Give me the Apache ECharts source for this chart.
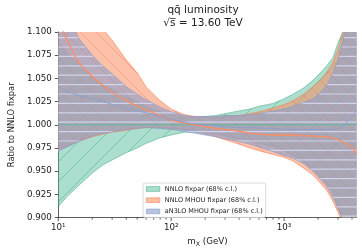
<!DOCTYPE html>
<html><head><meta charset="utf-8">
<script src="https://cdn.jsdelivr.net/npm/echarts@6/dist/echarts.min.js"></script>
<style>html,body{margin:0;padding:0;background:#fff}#c{width:362px;height:252px}</style>
</head><body><div id="c"></div>
<script>
const mass = [10,12,15,20,25,30,40,50,60,80,100,130,160,200,250,300,400,500,600,800,1000,1200,1500,1800,2100,2400,2700,3000,3300,3600,4000,4400];
const nnloLower = [0.912,0.923,0.934,0.948,0.957,0.962,0.970,0.975,0.980,0.986,0.989,0.992,0.992,0.991,0.990,0.988,0.985,0.983,0.980,0.977,0.972,0.967,0.960,0.952,0.944,0.936,0.928,0.912,0.900,0.870,0.830,0.790];
const nnloUpper = [1.088,1.077,1.066,1.052,1.043,1.038,1.030,1.025,1.020,1.014,1.011,1.008,1.008,1.009,1.010,1.012,1.015,1.017,1.020,1.023,1.028,1.033,1.040,1.048,1.056,1.064,1.072,1.088,1.100,1.130,1.170,1.210];
const nnloCentral = [1,1,1,1,1,1,1,1,1,1,1,1,1,1,1,1,1,1,1,1,1,1,1,1,1,1,1,1,1,1,1,1];
const mhouLower = [0.9725,0.977,0.982,0.987,0.990,0.992,0.994,0.996,0.997,0.997,0.996,0.995,0.993,0.990,0.987,0.984,0.979,0.975,0.972,0.968,0.965,0.961,0.953,0.946,0.937,0.929,0.918,0.906,0.893,0.870,0.840,0.800];
const mhouUpper = [1.200,1.170,1.145,1.118,1.103,1.091,1.070,1.056,1.041,1.026,1.017,1.011,1.009,1.008,1.008,1.009,1.010,1.012,1.014,1.018,1.022,1.026,1.033,1.041,1.048,1.057,1.067,1.081,1.098,1.130,1.170,1.210];
const mhouCentral = [1.112,1.091,1.068,1.052,1.042,1.035,1.026,1.020,1.016,1.010,1.005,1.002,1.000,0.998,0.996,0.995,0.993,0.991,0.990,0.989,0.989,0.989,0.988,0.988,0.987,0.987,0.986,0.984,0.982,0.979,0.975,0.969];
const an3loLower = [0.972,0.976,0.982,0.988,0.991,0.9925,0.995,0.996,0.997,0.996,0.995,0.993,0.991,0.989,0.987,0.985,0.982,0.979,0.976,0.971,0.967,0.964,0.958,0.950,0.941,0.933,0.922,0.910,0.898,0.880,0.850,0.810];
const an3loUpper = [1.150,1.125,1.094,1.075,1.063,1.055,1.041,1.033,1.027,1.019,1.014,1.010,1.009,1.009,1.009,1.010,1.010,1.011,1.012,1.015,1.017,1.020,1.024,1.028,1.035,1.043,1.055,1.070,1.090,1.115,1.150,1.190];
const an3loCentral = [1.041,1.036,1.032,1.028,1.025,1.022,1.018,1.015,1.013,1.009,1.006,1.003,1.001,1.000,0.999,0.998,0.997,0.997,0.9965,0.996,0.9955,0.995,0.995,0.995,0.995,0.995,0.995,0.996,0.998,1.003,1.009,1.016];
const names = ['NNLO fixpar (68% c.l.)','NNLO MHOU fixpar (68% c.l.)','aN3LO MHOU fixpar (68% c.l.)'];
const majorTicks = [10,100,1000];
const minorTicks = [20,30,40,50,60,70,80,90,200,300,400,500,600,700,800,900,2000,3000,4000];
const supers = {'1':'10\u00b9','2':'10\u00b2','3':'10\u00b3'};

const FILL = ['rgba(102,194,165,0.55)','rgba(252,141,98,0.55)','rgba(141,160,203,0.62)'];
const EDGE = ['rgba(70,170,135,0.9)','rgba(250,120,80,0.9)','rgba(130,150,200,0.9)'];
const LINE = ['#5cbf9b','#fc8d62','#8da0cb'];
// hatch: [slope in screen px (0 horizontal, -1 '/', 1 '\'), spacing, colour, width]
const HATCH = [
  [[-1,20,'rgba(50,160,120,0.6)',0.7]],
  [[1,16,'rgba(240,110,80,0.55)',0.7]],
  [[-1,14,'rgba(235,150,150,0.3)',0.6],[1,14,'rgba(235,150,150,0.3)',0.6],[0,9.4,'rgba(214,220,246,0.85)',1.2]]
];

function posInterval(ha,hb,xa,xb){
  if (ha>=0 && hb>=0) return [xa,xb];
  if (ha<0 && hb<0) return null;
  const x0 = xa + ha/(ha-hb)*(xb-xa);
  return ha>=0 ? [xa,x0] : [x0,xb];
}
function hatchElements(up, dn, spec, rect){
  const [m, s, color, w] = spec;
  const X0=rect.x, X1=rect.x+rect.width, Y0=rect.y, Y1=rect.y+rect.height;
  let lo, hi;
  if (m===0){lo=Y0; hi=Y1;} else if (m<0){lo=Y0+X0; hi=Y1+X1;} else {lo=Y0-X1; hi=Y1-X0;}
  const out = [];
  const st = {stroke:color, lineWidth:w};
  for (let c=Math.ceil(lo/s)*s; c<=hi; c+=s){
    let run = null;
    for (let i=0;i<up.length-1;i++){
      const xa=up[i][0], xb=up[i+1][0];
      if (!(xb>xa)) continue;
      const ga=c+m*xa, gb=c+m*xb;
      const iv1 = posInterval(ga-up[i][1], gb-up[i+1][1], xa, xb);
      const iv2 = posInterval(dn[i][1]-ga, dn[i+1][1]-gb, xa, xb);
      if (!iv1 || !iv2) { continue; }
      const a=Math.max(iv1[0],iv2[0]), b=Math.min(iv1[1],iv2[1]);
      if (b-a<0.01) continue;
      if (run && Math.abs(run[1]-a)<0.02) run[1]=b;
      else { if (run) out.push(run); run=[a,b]; }
    }
    if (run) out.push(run);
    out.forEach(r=>{ if (!r.done){ r.done=true; r.c=c; } });
  }
  return out.map(r=>({type:'line',silent:true,shape:{x1:r[0],y1:r.c+m*r[0],x2:r[1],y2:r.c+m*r[1]},style:st}));
}

const bands = [[nnloLower,nnloUpper],[mhouLower,mhouUpper],[an3loLower,an3loUpper]];
const centrals = [nnloCentral, mhouCentral, an3loCentral];

function bandSeries(k){
  const lo = bands[k][0], hi = bands[k][1];
  return {
    name: names[k], type:'custom', coordinateSystem:'cartesian2d',
    data: mass.map((m,i)=>[m, lo[i], hi[i]]),
    encode:{x:0, y:[1,2]},
    itemStyle:{color:FILL[k]},
    clip:true, silent:true, z:2+k,
    renderItem:(params, api)=>{
      if (params.dataIndex !== 0) return null;
      const up = mass.map((m,i)=>api.coord([m, hi[i]]));
      const dn = mass.map((m,i)=>api.coord([m, lo[i]]));
      const poly = up.concat(dn.slice().reverse());
      const rect = params.coordSys;
      const children = [{type:'polygon',shape:{points:poly},style:{fill:FILL[k],stroke:'none'}}];
      HATCH[k].forEach(sp=>hatchElements(up, dn, sp, rect).forEach(e=>children.push(e)));
      children.push({type:'polyline',shape:{points:up},style:{stroke:EDGE[k],lineWidth:0.6,fill:'none'}});
      children.push({type:'polyline',shape:{points:dn},style:{stroke:EDGE[k],lineWidth:0.6,fill:'none'}});
      return {type:'group',children:children};
    }
  };
}

const series = [bandSeries(0), bandSeries(1), bandSeries(2)];
centrals.forEach((c,k)=>{
  series.push({name:'c'+k,type:'line',data:mass.map((m,i)=>[m,c[i]]),symbol:'none',smooth:0.2,
    lineStyle:{color:LINE[k],width:k===1?1.3:1},silent:true,z:10});
});
const tickRender = (params, api) => {
  const p = api.coord([api.value(0), 0.9]);
  const len = api.value(2);
  return {type:'line',shape:{x1:p[0],y1:p[1],x2:p[0],y2:p[1]+len},style:{stroke:'#333',lineWidth:0.8}};
};
series.push({name:'majt',type:'custom',data:majorTicks.map(v=>[v,0.9,3.5]),renderItem:tickRender,clip:false,silent:true,z:20});
series.push({name:'mint',type:'custom',data:minorTicks.map(v=>[v,0.9,2]),renderItem:tickRender,clip:false,silent:true,z:20});

const chart = echarts.init(document.getElementById('c'), null, {renderer:'canvas'});
chart.setOption({
  animation:false,
  backgroundColor:'#fff',
  textStyle:{fontFamily:'DejaVu Sans'},
  grid:{left:50,right:5.3,top:32,bottom:33.7,containLabel:false},
  xAxis:{type:'log',logBase:10,min:10,max:4400,
    axisLine:{show:true,lineStyle:{color:'#333',width:0.8}},
    axisTick:{show:false},splitLine:{show:false},minorTick:{show:false},
    axisLabel:{fontSize:8.7,color:'#222',margin:6,showMaxLabel:true,
      formatter:v=>{const l=Math.log10(v);const r=Math.round(l);return Math.abs(l-r)<1e-6?(supers[String(r)]||''):'';}},
    name:'{n|m}{s|X}{n| (GeV)}',nameLocation:'middle',nameGap:17,
    nameTextStyle:{rich:{n:{fontSize:8.7,color:'#222',fontFamily:'DejaVu Sans'},s:{fontSize:6.3,color:'#222',fontFamily:'DejaVu Sans',padding:[4,0,0,0]}}}
  },
  yAxis:{type:'value',min:0.9,max:1.1,interval:0.025,
    axisLine:{show:true,lineStyle:{color:'#333',width:0.8}},
    axisTick:{show:true,length:3.5,lineStyle:{color:'#333',width:0.8}},
    splitLine:{show:false},
    axisLabel:{fontSize:8.7,color:'#222',margin:6.5,formatter:v=>v.toFixed(3)},
    name:'Ratio to NNLO fixpar',nameLocation:'middle',nameGap:36,
    nameTextStyle:{fontSize:8.3,color:'#222'}
  },
  legend:{orient:'vertical',left:143,top:183,padding:[2,3,2,3],itemGap:3.2,itemWidth:13.5,itemHeight:4.7,
    icon:'rect',backgroundColor:'rgba(255,255,255,0.85)',borderColor:'#d0d0d0',borderWidth:0.8,borderRadius:2,
    textStyle:{fontSize:6.5,color:'#222',lineHeight:8},
    data:names.map((n,k)=>({name:n,itemStyle:{color:FILL[k],borderColor:EDGE[k],borderWidth:0.6}})),
    selectedMode:false, z:30},
  graphic:[
    {type:'text',x:203,y:9.8,style:{text:'q\u0071\u0304 luminosity',fontSize:10.5,fill:'#222',fontFamily:'DejaVu Sans',align:'center',verticalAlign:'middle'}},
    {type:'text',x:203,y:23,style:{text:'\u221as\u0305 = 13.60 TeV',fontSize:10.5,fill:'#222',fontFamily:'DejaVu Sans',align:'center',verticalAlign:'middle'}}
  ],
  series:series
});
</script></body></html>
